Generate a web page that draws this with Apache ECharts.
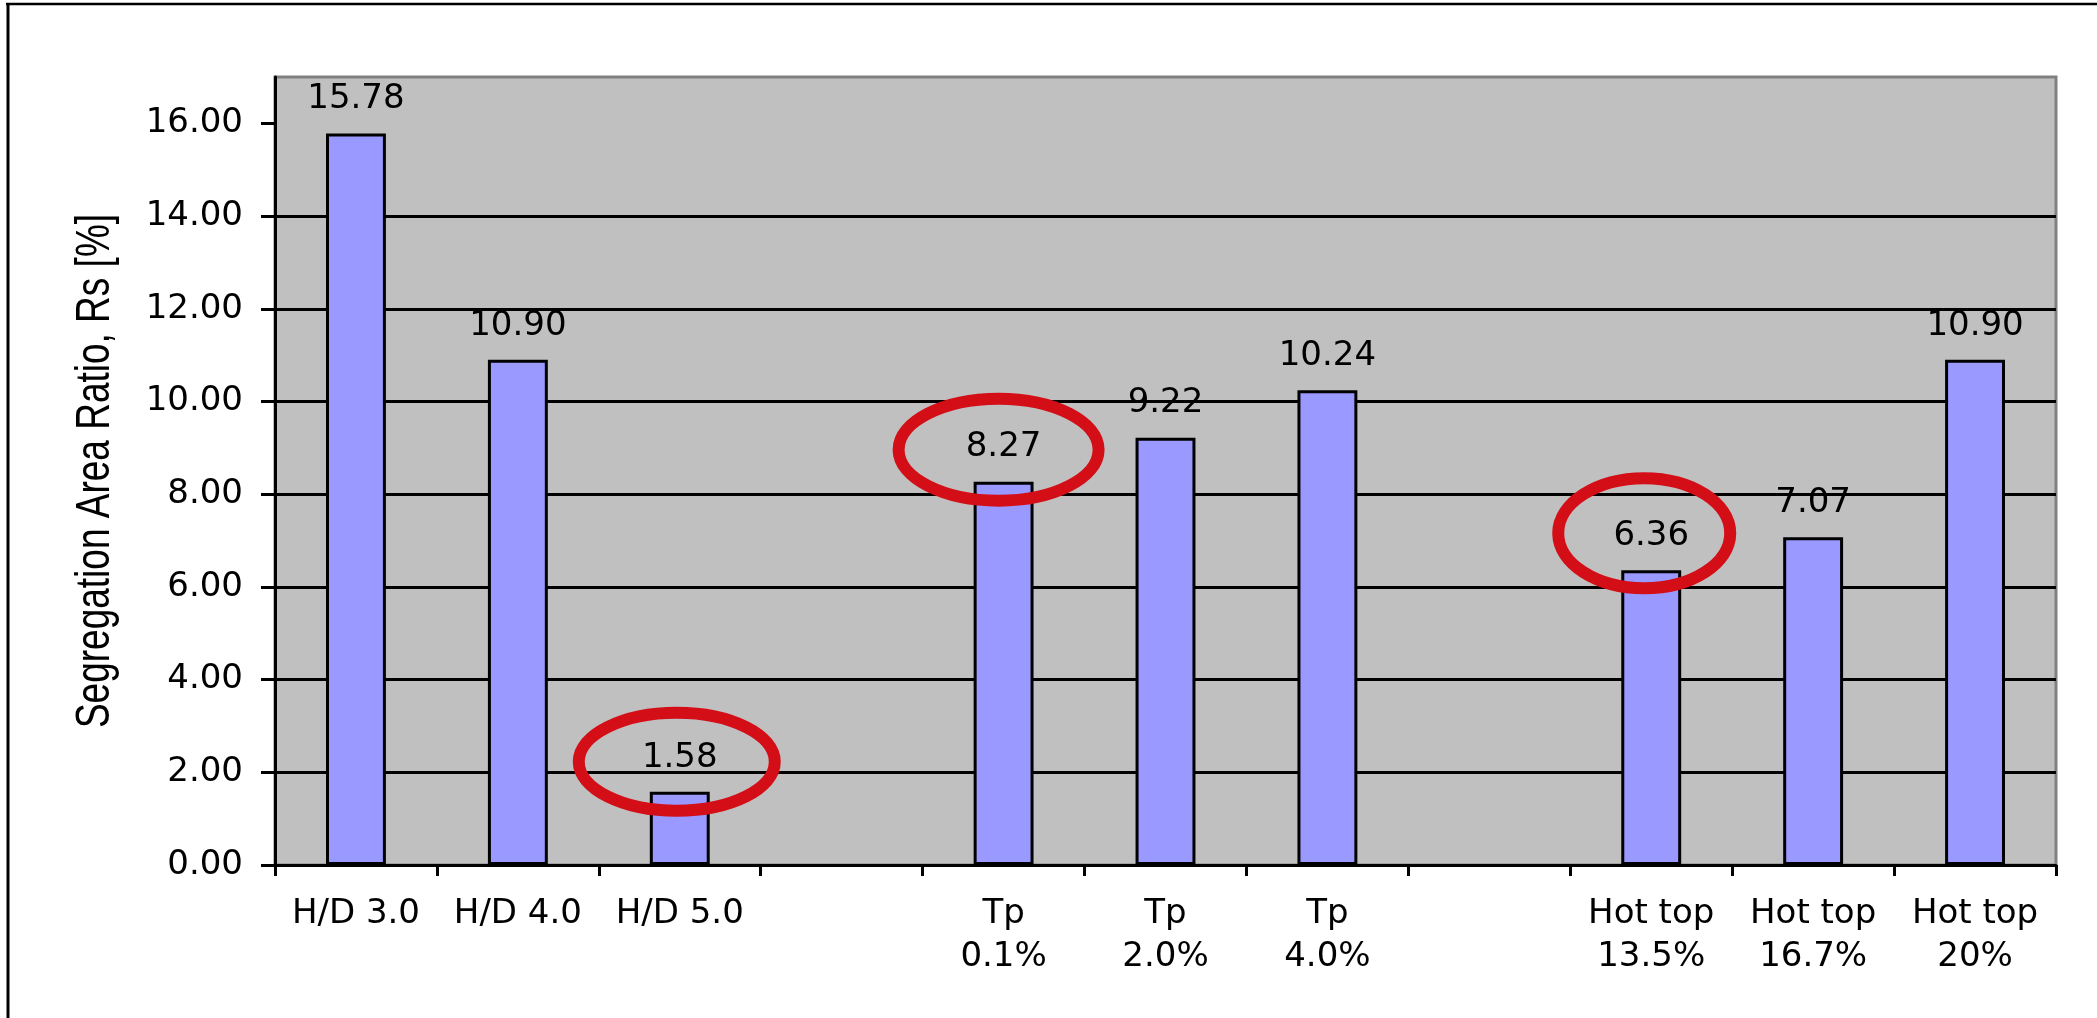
<!DOCTYPE html>
<html>
<head>
<meta charset="utf-8">
<script src="https://cdn.jsdelivr.net/npm/echarts@6/dist/echarts.min.js"></script>
<style>
  html, body { margin: 0; padding: 0; background: #ffffff; }
  #chart { width: 2097px; height: 1018px; }
</style>
</head>
<body>
<div id="chart"></div>
<script>
// Segregation area ratio per casting condition (blank slots separate the groups)
const categories = [
  'H/D 3.0', 'H/D 4.0', 'H/D 5.0', ' ',
  'Tp\n0.1%', 'Tp\n2.0%', 'Tp\n4.0%', '  ',
  'Hot top\n13.5%', 'Hot top\n16.7%', 'Hot top\n20%'
];
const ratioValues = [15.78, 10.90, 1.58, null, 8.27, 9.22, 10.24, null, 6.36, 7.07, 10.90];
const yTicks = [0, 2, 4, 6, 8, 10, 12, 14, 16];
const yAxisTitle = 'Segregation Area Ratio, Rs [%]';
const highlightedBars = [2, 4, 8];

// Ring placement around the highlighted value labels (offsets from the bar top, radii)
const ringStyle = {
  2: { dx: -3, dy: -30, rx: 98, ry: 49 },
  4: { dx: -5, dy: -32, rx: 100, ry: 51 },
  8: { dx: -7, dy: -37, rx: 86, ry: 55 }
};

const FONT = 'DejaVu Sans';
const chart = echarts.init(document.getElementById('chart'), null, { renderer: 'canvas' });

chart.setOption({
  animation: false,
  backgroundColor: '#ffffff',
  grid: {
    left: 275, right: 41, top: 77, bottom: 153,
    show: true, backgroundColor: '#C0C0C0', borderColor: '#808080', borderWidth: 3,
    containLabel: false, outerBoundsMode: 'none'
  },
  xAxis: {
    type: 'category',
    data: categories,
    boundaryGap: true,
    axisLine: { show: true, lineStyle: { color: '#000000', width: 3 } },
    axisTick: { show: true, interval: 0, length: 11, lineStyle: { color: '#000000', width: 3 } },
    axisLabel: { interval: 0, color: '#000000', fontFamily: FONT, fontSize: 34, lineHeight: 43, margin: 28 },
    splitLine: { show: false }
  },
  yAxis: {
    type: 'value',
    min: 0, max: 17, interval: 2,
    axisLine: { show: true, lineStyle: { color: '#000000', width: 3 } },
    axisTick: { show: true, length: 14, customValues: yTicks, lineStyle: { color: '#000000', width: 3 } },
    axisLabel: {
      color: '#000000', fontFamily: FONT, fontSize: 34, margin: 32,
      customValues: yTicks,
      formatter: v => Number(v).toFixed(2)
    },
    splitLine: { show: true, showMaxLine: false, lineStyle: { color: '#000000', width: 3 } }
  },
  series: [{
    type: 'bar',
    data: ratioValues,
    barWidth: '37%',
    itemStyle: { color: '#9999FF', borderColor: '#000000', borderWidth: 3 },
    label: {
      show: true, position: 'top', distance: 17,
      color: '#000000', fontFamily: FONT, fontSize: 34, lineHeight: 34,
      formatter: p => (p.value == null ? '' : Number(p.value).toFixed(2))
    }
  }]
});

// Annotations: outer frame, rotated axis title, red rings around selected labels
const yMid = chart.convertToPixel({ yAxisIndex: 0 }, 8.5);
const graphics = [
  { type: 'line', shape: { x1: 6, y1: 4, x2: 2097, y2: 4 }, style: { stroke: '#000000', lineWidth: 2.5 }, z: 10 },
  { type: 'line', shape: { x1: 8, y1: 3, x2: 8, y2: 1018 }, style: { stroke: '#000000', lineWidth: 3 }, z: 10 },
  {
    type: 'text', x: 96, y: yMid, rotation: Math.PI / 2, scaleX: 1, scaleY: 1.3, z: 10,
    style: {
      text: yAxisTitle, fill: '#000000',
      font: '37px "Liberation Sans", Arial, sans-serif',
      align: 'center', verticalAlign: 'middle'
    }
  }
];
highlightedBars.forEach(i => {
  const pt = chart.convertToPixel({ seriesIndex: 0 }, [i, ratioValues[i]]);
  const r = ringStyle[i];
  graphics.push({
    type: 'ellipse', z: 20,
    shape: { cx: pt[0] + r.dx, cy: pt[1] + r.dy, rx: r.rx, ry: r.ry },
    style: { fill: null, stroke: '#D40E17', lineWidth: 12 }
  });
});
chart.setOption({ graphic: graphics });
</script>
</body>
</html>
